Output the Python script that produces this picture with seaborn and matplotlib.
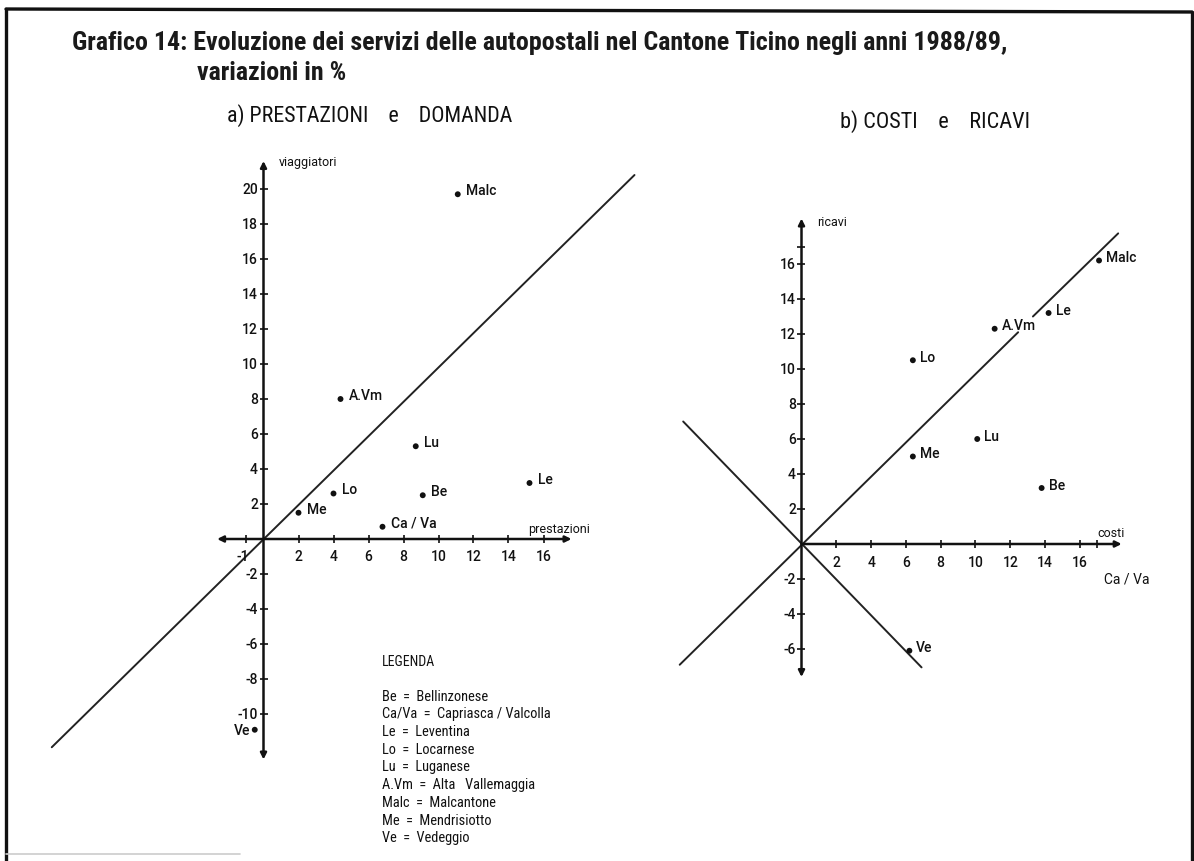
import numpy as np
import pandas as pd
import matplotlib
matplotlib.use("Agg")
import matplotlib.pyplot as plt
from matplotlib.lines import Line2D
from matplotlib import font_manager
import seaborn as sns

# ---------------- data ----------------
# a) PRESTAZIONI e DOMANDA  (variazioni in %)
regioni_a = ["Malc", "A.Vm", "Lu", "Le", "Lo", "Be", "Me", "Ca / Va", "Ve"]
prestazioni = [11.1, 4.4, 8.7, 15.2, 4.0, 9.1, 2.0, 6.8, -0.5]
viaggiatori = [19.7, 8.0, 5.3, 3.2, 2.6, 2.5, 1.5, 0.7, -10.9]

# b) COSTI e RICAVI  (variazioni in %)
regioni_b = ["Malc", "Le", "A.Vm", "Lo", "Lu", "Me", "Be", "Ve"]
costi = [17.1, 14.2, 11.1, 6.4, 10.1, 6.4, 13.8, 6.2]
ricavi = [16.2, 13.2, 12.3, 10.5, 6.0, 5.0, 3.2, -6.1]

# reference lines
diag_a_x = [-12.1, 21.2]
diag_a_y = [-11.9, 20.8]
diag_b1_x = [-7.0, 12.45]
diag_b1_y = [-6.9, 12.1]
diag_b2_x = [13.3, 18.2]
diag_b2_y = [13.0, 17.75]
anti_b_x = [-6.8, 6.9]
anti_b_y = [7.0, -7.05]

# ticks
xticks_a = [-1, 2, 4, 6, 8, 10, 12, 14, 16]
yticks_a = [20, 18, 16, 14, 12, 10, 8, 6, 4, 2, -2, -4, -6, -8, -10]
xticks_b = [2, 4, 6, 8, 10, 12, 14, 16]
yticks_b = [16, 14, 12, 10, 8, 6, 4, 2, -2, -4, -6]

legenda = [
    "Be  =  Bellinzonese",
    "Ca/Va  =  Capriasca / Valcolla",
    "Le  =  Leventina",
    "Lo  =  Locarnese",
    "Lu  =  Luganese",
    "A.Vm  =  Alta   Vallemaggia",
    "Malc  =  Malcantone",
    "Me  =  Mendrisiotto",
    "Ve  =  Vedeggio",
]

# ---------------- figure ----------------
sns.set_theme(style="white")
plt.rcParams["font.family"] = ["DejaVu Sans"]

available = {f.name for f in font_manager.fontManager.ttflist}
NARROW = [f for f in ["Roboto Condensed", "Liberation Sans Narrow", "Roboto", "Liberation Sans"]
          if f in available] + ["DejaVu Sans"]
PLAIN = [f for f in ["Roboto", "Liberation Sans"] if f in available] + ["DejaVu Sans"]

W, H = 1194, 862
fig = plt.figure(figsize=(W / 100, H / 100), dpi=100)
fig.patch.set_facecolor("white")
renderer = fig.canvas.get_renderer()


def px_axes(left, top, right, bottom):
    return fig.add_axes([left / W, 1 - bottom / H, (right - left) / W, (bottom - top) / H])


def fit_text(x, y, s, width_px, size0=14, **kw):
    t = fig.text(x / W, 1 - y / H, s, fontsize=size0, **kw)
    w = t.get_window_extent(renderer=renderer).width
    t.set_fontsize(size0 * width_px / w)
    return t


# frame
fig.add_artist(Line2D([6 / W, 6 / W], [0, 1 - 10 / H], transform=fig.transFigure, color="#111", lw=2.4))
fig.add_artist(Line2D([6 / W, 1192 / W], [1 - 10 / H, 1 - 13 / H], transform=fig.transFigure, color="#111", lw=2.4))
fig.add_artist(Line2D([1192 / W, 1192 / W], [1 - 13 / H, 0], transform=fig.transFigure, color="#111", lw=2.4))
fig.add_artist(Line2D([6 / W, 240 / W], [1 - 855 / H, 1 - 855 / H], transform=fig.transFigure, color="#cccccc", lw=1.2))

# title
t1 = fit_text(72, 50, "Grafico 14: Evoluzione dei servizi delle autopostali nel Cantone Ticino negli anni 1988/89,",
              935, size0=16, family=NARROW, fontstretch="condensed", fontweight="bold",
              va="baseline", ha="left", color="#1a1a1a")
fig.text(197 / W, 1 - 80 / H, "variazioni in %", fontsize=t1.get_fontsize(), family=NARROW,
         fontstretch="condensed", fontweight="bold", va="baseline", ha="left", color="#1a1a1a")
fit_text(227, 121.5, "a) PRESTAZIONI    e    DOMANDA", 286, size0=12, family=NARROW,
         fontstretch="condensed", va="baseline", ha="left", color="#111")
fit_text(840, 128, "b) COSTI    e    RICAVI", 190, size0=12, family=NARROW,
         fontstretch="condensed", va="baseline", ha="left", color="#111")

# ---------------- panel a ----------------
OA = (263.5, 540.0)
SA = 17.5
la, ta, ra, ba = 30, 140, 660, 800
axA = px_axes(la, ta, ra, ba)
axA.set_xlim((la - OA[0]) / SA, (ra - OA[0]) / SA)
axA.set_ylim((OA[1] - ba) / SA, (OA[1] - ta) / SA)
axA.axis("off")

arrow_kw = dict(arrowstyle="<|-|>", color="#111", lw=1.8, shrinkA=0, shrinkB=0, mutation_scale=9)
axA.annotate("", xy=(17.6, 0), xytext=(-2.65, 0), arrowprops=arrow_kw)
axA.annotate("", xy=(0, 21.6), xytext=(0, -12.6), arrowprops=arrow_kw)
axA.plot(xticks_a, [0] * len(xticks_a), ls="none", marker="|", ms=6, mew=1.2, color="#111")
axA.plot([0] * len(yticks_a), yticks_a, ls="none", marker="_", ms=6, mew=1.2, color="#111")
TK = dict(fontsize=10, color="#111", family=PLAIN, fontweight="medium")
for v in xticks_a:
    axA.annotate(str(v), (v, 0), xytext=(-2 if v < 0 else 0, -7), textcoords="offset points",
                 ha="center", va="top", **TK)
for v in yticks_a:
    axA.annotate(str(v), (0, v), xytext=(-4, 0), textcoords="offset points", ha="right", va="center", **TK)

sns.lineplot(x=diag_a_x, y=diag_a_y, ax=axA, color="#222", lw=1.4, sort=False, estimator=None)
df_a = pd.DataFrame({"prestazioni": prestazioni, "viaggiatori": viaggiatori, "regione": regioni_a})
sns.scatterplot(data=df_a, x="prestazioni", y="viaggiatori", ax=axA, color="#111", s=18,
                edgecolor="none", legend=False, zorder=5)
LB = dict(fontsize=10, color="#111", family=PLAIN, fontweight="medium")
for name, x, y in zip(regioni_a, prestazioni, viaggiatori):
    if name == "Ve":
        axA.annotate(name, (x, y), xytext=(-3, 0), textcoords="offset points", ha="right", va="center", **LB)
    else:
        axA.annotate(name, (x, y), xytext=(6, 3), textcoords="offset points", ha="left", va="center", **LB)
axA.text(0.9, 21.55, "viaggiatori", fontsize=9, family=PLAIN, ha="left", va="center", color="#111")
axA.text(15.1, 0.6, "prestazioni", fontsize=9, family=PLAIN, ha="left", va="center", color="#111")

# legend block
fig.text(381.7 / W, 1 - 661.7 / H, "LEGENDA", fontsize=10, family=NARROW, va="center", ha="left", color="#111")
leg0 = fit_text(381.7, 715.0, legenda[1], 171, size0=9, family=NARROW, va="center", ha="left", color="#111")
fs_leg = leg0.get_fontsize()
leg0.remove()
for i, s in enumerate(legenda):
    fig.text(381.7 / W, 1 - (696.7 + i * 17.7) / H, s, fontsize=fs_leg, family=NARROW,
             va="center", ha="left", color="#111")

# ---------------- panel b ----------------
OB = (801.5, 545.0)
SBX, SBY = 17.4, 17.5
lb, tb, rb, bb = 670, 200, 1180, 700
axB = px_axes(lb, tb, rb, bb)
axB.set_xlim((lb - OB[0]) / SBX, (rb - OB[0]) / SBX)
axB.set_ylim((OB[1] - bb) / SBY, (OB[1] - tb) / SBY)
axB.axis("off")

axB.annotate("", xy=(18.4, 0), xytext=(0, 0),
             arrowprops=dict(arrowstyle="-|>", color="#111", lw=1.8, shrinkA=0, shrinkB=0, mutation_scale=9))
axB.annotate("", xy=(0, 18.6), xytext=(0, -7.6), arrowprops=arrow_kw)
axB.plot(xticks_b + [17], [0] * (len(xticks_b) + 1), ls="none", marker="|", ms=6, mew=1.2, color="#111")
axB.plot([0] * (len(yticks_b) + 1), yticks_b + [17], ls="none", marker="_", ms=6, mew=1.2, color="#111")
for v in xticks_b:
    axB.annotate(str(v), (v, 0), xytext=(0, -8), textcoords="offset points", ha="center", va="top", **TK)
for v in yticks_b:
    axB.annotate(str(v), (0, v), xytext=(-4, 0), textcoords="offset points", ha="right", va="center", **TK)

for xs, ys in [(diag_b1_x, diag_b1_y), (diag_b2_x, diag_b2_y), (anti_b_x, anti_b_y)]:
    sns.lineplot(x=xs, y=ys, ax=axB, color="#222", lw=1.4, sort=False, estimator=None)
df_b = pd.DataFrame({"costi": costi, "ricavi": ricavi, "regione": regioni_b})
sns.scatterplot(data=df_b, x="costi", y="ricavi", ax=axB, color="#111", s=18,
                edgecolor="none", legend=False, zorder=5)
for name, x, y in zip(regioni_b, costi, ricavi):
    axB.annotate(name, (x, y), xytext=(5, 2.5), textcoords="offset points", ha="left", va="center", **LB)
axB.text(0.9, 18.45, "ricavi", fontsize=9, family=PLAIN, ha="left", va="center", color="#111")
axB.text(17.0, 0.65, "costi", fontsize=9, family=PLAIN, ha="left", va="center", color="#111")
axB.text(17.4, -2.0, "Ca / Va", fontsize=10, family=PLAIN, ha="left", va="center", color="#111")

fig.savefig("out.png", dpi=100, facecolor="white")
